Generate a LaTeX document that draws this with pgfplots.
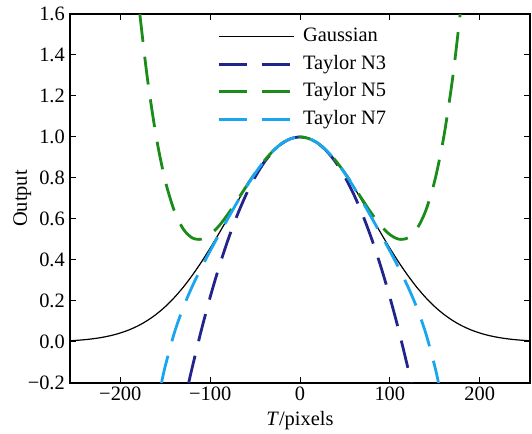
\documentclass[border=0pt]{standalone}
\usepackage{fontspec}
\setmainfont{Liberation Serif}
\usepackage{pgfplots}
\usepackage{pgfplotstable}
\pgfplotsset{compat=1.18}

\definecolor{taylorthree}{RGB}{35,35,140}
\definecolor{taylorfive}{RGB}{25,140,25}
\definecolor{taylorseven}{RGB}{25,165,240}

% Gaussian profile and its truncated Taylor expansions
\pgfplotstableread{
x y
-256 0.005976
-250 0.007576
-240 0.011109
-230 0.016038
-220 0.022794
-210 0.031895
-200 0.043937
-190 0.059587
-180 0.079560
-170 0.104579
-160 0.135335
-150 0.172422
-140 0.216265
-130 0.267052
-120 0.324652
-110 0.388558
-100 0.457833
-90 0.531096
-80 0.606531
-70 0.681941
-60 0.754840
-50 0.822578
-40 0.882497
-30 0.932102
-20 0.969233
-10 0.992218
0 1.000000
10 0.992218
20 0.969233
30 0.932102
40 0.882497
50 0.822578
60 0.754840
70 0.681941
80 0.606531
90 0.531096
100 0.457833
110 0.388558
120 0.324652
130 0.267052
140 0.216265
150 0.172422
160 0.135335
170 0.104579
180 0.079560
190 0.059587
200 0.043937
210 0.031895
220 0.022794
230 0.016038
240 0.011109
250 0.007576
256 0.005976
}\gaussian

\pgfplotstableread{
x y
-123.94 -0.2
-120 -0.125000
-110 0.054688
-100 0.218750
-90 0.367188
-80 0.500000
-70 0.617188
-60 0.718750
-50 0.804688
-40 0.875000
-30 0.929688
-20 0.968750
-10 0.992188
0 1.000000
10 0.992188
20 0.968750
30 0.929688
40 0.875000
50 0.804688
60 0.718750
70 0.617188
80 0.500000
90 0.367188
100 0.218750
110 0.054688
120 -0.125000
123.94 -0.2
}\taylorNthree

\pgfplotstableread{
x y
-178.28 1.600000
-170 1.291046
-160 1.000000
-150 0.787140
-140 0.641113
-130 0.551300
-120 0.507813
-110 0.501496
-100 0.523926
-90 0.567413
-80 0.625000
-70 0.690460
-60 0.758301
-50 0.823761
-40 0.882813
-30 0.932159
-20 0.969238
-10 0.992218
0 1.000000
10 0.992218
20 0.969238
30 0.932159
40 0.882813
50 0.823761
60 0.758301
70 0.690460
80 0.625000
90 0.567413
100 0.523926
110 0.501496
120 0.507813
130 0.551300
140 0.641113
150 0.787140
160 1.000000
170 1.291046
178.28 1.600000
}\taylorNfive

\pgfplotstableread{
x y
-154.17 -0.200000
-150 -0.118095
-140 0.042719
-130 0.167699
-120 0.270508
-110 0.360705
-100 0.444453
-90 0.525178
-80 0.604167
-70 0.681110
-60 0.754593
-50 0.822519
-40 0.882487
-30 0.932101
-20 0.969233
-10 0.992218
0 1.000000
10 0.992218
20 0.969233
30 0.932101
40 0.882487
50 0.822519
60 0.754593
70 0.681110
80 0.604167
90 0.525178
100 0.444453
110 0.360705
120 0.270508
130 0.167699
140 0.042719
150 -0.118095
154.17 -0.200000
}\taylorNseven

\begin{document}
\begin{tikzpicture}
\useasboundingbox (0,0) rectangle (532bp,434bp);
\begin{axis}[
  at={(70bp,51bp)}, anchor=south west,
  scale only axis, width=460bp, height=369bp,
  xmin=-256, xmax=256, ymin=-0.2, ymax=1.6,
  xtick={-200,-100,0,100,200},
  xticklabels={−200,−100,0,100,200},
  ytick={-0.2,0,0.2,0.4,0.6,0.8,1.0,1.2,1.4,1.6},
  yticklabels={−0.2,0.0,0.2,0.4,0.6,0.8,1.0,1.2,1.4,1.6},
  tick align=inside,
  major tick length=6bp,
  minor tick num=0,
  axis line style={line width=1.1bp},
  every tick/.style={line width=1bp, black},
  tick label style={font=\fontsize{20.5}{24}\selectfont, inner sep=0pt},
  xticklabel style={yshift=-4bp},
  yticklabel style={xshift=-5bp},
  label style={font=\fontsize{20.5}{24}\selectfont},
  xlabel={\textit{T}/pixels},
  xlabel style={at={(axis description cs:0.5,0)}, anchor=base, yshift=-42bp},
  ylabel={Output},
  ylabel style={at={(axis description cs:-0.0935,0.5)}, anchor=base},
  legend style={draw=none, fill=none, at={(rel axis cs:0.3196,0.963)},
    anchor=north west, inner sep=0pt,
    font=\fontsize{20.5}{24}\selectfont,
    nodes={inner sep=0pt, text height=14bp, text depth=4bp},
    row sep=9.5bp,
    /tikz/every odd column/.append style={column sep=8bp}},
  legend cell align=left,
  legend image code/.code={\draw[#1] (0bp,0bp) -- (75bp,0bp);},
]
\addplot[black, line width=1.2bp, smooth] table {\gaussian};
\addlegendentry{Gaussian}
\addplot[taylorthree, line width=2.8bp, dash pattern=on 28bp off 15bp, smooth] table {\taylorNthree};
\addlegendentry{Taylor N3}
\addplot[taylorfive, line width=2.8bp, dash pattern=on 28bp off 15bp, smooth] table {\taylorNfive};
\addlegendentry{Taylor N5}
\addplot[taylorseven, line width=2.8bp, dash pattern=on 28bp off 15bp, smooth] table {\taylorNseven};
\addlegendentry{Taylor N7}
\end{axis}
\end{tikzpicture}
\end{document}
